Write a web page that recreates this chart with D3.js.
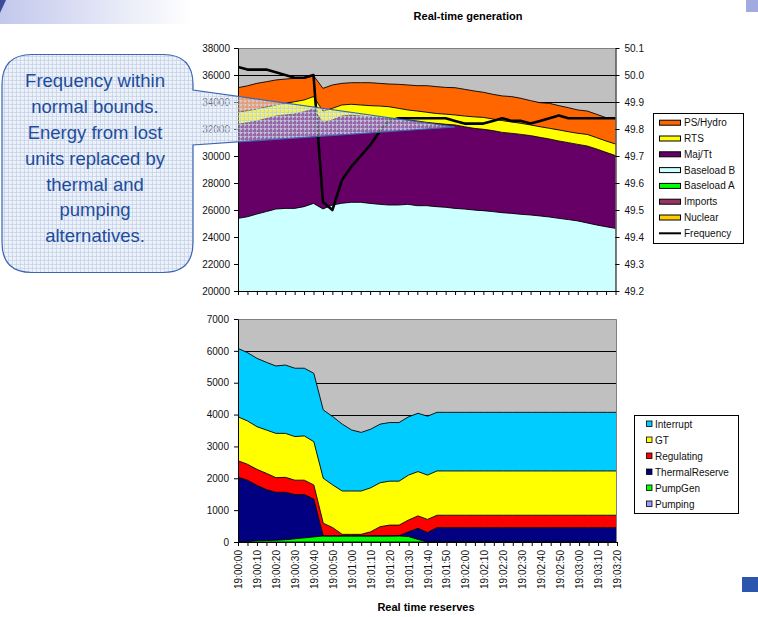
<!DOCTYPE html>
<html>
<head>
<meta charset="utf-8">
<script src="https://cdn.jsdelivr.net/npm/d3@7"></script>
<style>
  body { margin: 0; background: #fff; }
  svg { display: block; font-family: Arial, "Liberation Sans", sans-serif; }
</style>
</head>
<body>
<svg id="chart" width="758" height="617"></svg>
<script>
// ---- categories (5-second samples) ----
const categories = ["19:00:00","19:00:05","19:00:10","19:00:15","19:00:20","19:00:25","19:00:30","19:00:35","19:00:40","19:00:45",
  "19:00:50","19:00:55","19:01:00","19:01:05","19:01:10","19:01:15","19:01:20","19:01:25","19:01:30","19:01:35",
  "19:01:40","19:01:45","19:01:50","19:01:55","19:02:00","19:02:05","19:02:10","19:02:15","19:02:20","19:02:25",
  "19:02:30","19:02:35","19:02:40","19:02:45","19:02:50","19:02:55","19:03:00","19:03:05","19:03:10","19:03:15","19:03:20"];
const timeLabels = ["19:00:00","19:00:10","19:00:20","19:00:30","19:00:40","19:00:50","19:01:00","19:01:10","19:01:20","19:01:30",
  "19:01:40","19:01:50","19:02:00","19:02:10","19:02:20","19:02:30","19:02:40","19:02:50","19:03:00","19:03:10","19:03:20"];

// ---- generation (MW) ----
const nuclear   = [0,0,0,0,0,0,0,0,0,0,0,0,0,0,0,0,0,0,0,0,0,0,0,0,0,0,0,0,0,0,0,0,0,0,0,0,0,0,0,0,0];
const imports   = [0,0,0,0,0,0,0,0,0,0,0,0,0,0,0,0,0,0,0,0,0,0,0,0,0,0,0,0,0,0,0,0,0,0,0,0,0,0,0,0,0];
const baseloadA = [0,0,0,0,0,0,0,0,0,0,0,0,0,0,0,0,0,0,0,0,0,0,0,0,0,0,0,0,0,0,0,0,0,0,0,0,0,0,0,0,0];
const baseloadB = [25380,25500,25700,25880,26070,26120,26120,26250,26490,26080,26370,26500,26570,26570,26490,26420,26370,26370,26420,26320,
  26320,26250,26200,26120,26070,26000,25950,25880,25800,25750,25680,25630,25560,25480,25380,25290,25190,25040,24890,24760,24640];
const majTt     = [6970,6970,6890,6900,6890,6920,6990,7030,6990,6410,6300,6460,6460,6390,6420,6420,6420,6370,6250,6270,
  6170,6170,6150,6180,6100,6050,6030,6000,5950,5930,5920,5880,5820,5780,5730,5700,5670,5700,5630,5510,5390];
const rts       = [890,890,890,850,820,860,910,870,920,840,860,820,800,820,820,860,860,790,740,740,
  750,730,750,740,790,850,880,860,870,840,820,790,790,790,820,810,820,860,840,840,860];
const psHydro   = [1820,1840,1900,1870,1850,1800,1730,1600,1550,1680,1730,1600,1600,1650,1700,1680,1680,1780,1850,1880,
  1970,1990,1980,2020,1980,1920,1860,1830,1830,1880,1850,1800,1780,1850,1800,1780,1730,1730,1730,1730,1900];
// ---- system frequency (Hz) ----
const frequency = [50.03,50.02,50.02,50.02,50.01,50.00,49.99,49.99,50.00,49.53,49.50,49.61,49.66,49.70,49.74,49.79,49.83,49.84,49.84,49.84,
  49.84,49.84,49.84,49.83,49.82,49.82,49.82,49.83,49.84,49.83,49.83,49.82,49.83,49.84,49.85,49.84,49.84,49.84,49.84,49.84,49.84];

// ---- reserves (MW) ----
const pumping        = [0,0,0,0,0,0,0,0,0,0,0,0,0,0,0,0,0,0,0,0,0,0,0,0,0,0,0,0,0,0,0,0,0,0,0,0,0,0,0,0,0];
const pumpGen        = [0,15,40,45,55,70,100,130,160,190,190,190,190,190,190,190,190,190,170,80,0,0,0,0,0,0,0,0,0,0,0,0,0,0,0,0,0,0,0,0,0];
const thermalReserve = [2030,1925,1740,1600,1505,1490,1390,1360,1190,0,0,0,0,0,0,0,0,10,150,350,300,450,450,450,450,450,450,450,450,450,450,450,450,450,450,450,450,450,450,450,450];
const regulating     = [520,500,500,510,460,470,450,450,440,400,260,50,50,50,130,290,340,330,370,390,410,390,390,390,390,390,390,390,390,390,390,390,390,390,390,390,390,390,390,390,390];
const gt             = [1380,1360,1340,1360,1390,1380,1370,1390,1360,1410,1340,1360,1360,1360,1380,1380,1380,1380,1410,1390,1390,1390,1390,1390,1390,1390,1390,1390,1390,1390,1390,1390,1390,1390,1390,1390,1390,1390,1390,1390,1390];
const interrupt      = [2145,2145,2145,2125,2115,2145,2145,2125,2145,2145,2145,2100,1915,1840,1840,1840,1840,1840,1830,1830,1850,1840,1840,1840,1840,1840,1840,1840,1840,1840,1840,1840,1840,1840,1840,1840,1840,1840,1840,1840,1840];

// ---- axis ticks ----
const genTicks = [20000,22000,24000,26000,28000,30000,32000,34000,36000,38000];
const freqTicks = [49.2,49.3,49.4,49.5,49.6,49.7,49.8,49.9,50.0,50.1];
const reserveTicks = [0,1000,2000,3000,4000,5000,6000,7000];

// ---- series names / colours ----
const genKeys   = ["Nuclear","Imports","Baseload A","Baseload B","Maj/Tt","RTS","PS/Hydro"];
const genColors = ["#FFCC00","#993366","#00FF00","#CCFFFF","#660066","#FFFF00","#FF6600"];
const genSeries = [nuclear, imports, baseloadA, baseloadB, majTt, rts, psHydro];
const resKeys   = ["Pumping","PumpGen","ThermalReserve","Regulating","GT","Interrupt"];
const resColors = ["#9999FF","#00FF00","#000080","#FF0000","#FFFF00","#00CCFF"];
const resSeries = [pumping, pumpGen, thermalReserve, regulating, gt, interrupt];

const svg = d3.select("#chart");
const defs = svg.append("defs");

// slide decorations
const grad = defs.append("linearGradient").attr("id", "band").attr("x1", 0).attr("x2", 1);
grad.append("stop").attr("offset", 0).attr("stop-color", "#C2C8EC");
grad.append("stop").attr("offset", 1).attr("stop-color", "#FFFFFF");
svg.append("rect").attr("x", 0).attr("y", 0).attr("width", 192).attr("height", 24).attr("fill", "url(#band)");
svg.append("path").attr("d", "M0,0 L6,0 L0,13 Z").attr("fill", "#3A4C98");
svg.append("rect").attr("x", 746).attr("y", 0).attr("width", 12).attr("height", 12).attr("fill", "#A3AADF");
svg.append("rect").attr("x", 742).attr("y", 577).attr("width", 16).attr("height", 15).attr("fill", "#2C56AE");

function table(keys, series) {
  return categories.map((c, i) => {
    const row = { cat: c };
    keys.forEach((k, j) => { row[k] = series[j][i]; });
    return row;
  });
}

function styleAxis(g) {
  g.selectAll("path.domain").attr("stroke", "#000");
  g.selectAll(".tick line").attr("stroke", "#000");
  g.selectAll("text").attr("fill", "#111").style("font-size", "10px").style("font-family", "Arial, 'Liberation Sans', sans-serif");
}

// ================= Real-time generation =================
const genBox = { l: 238, r: 615.5, t: 48, b: 291 };
const xTop = d3.scalePoint().domain(categories).range([genBox.l, genBox.r]);
const yGen = d3.scaleLinear().domain([20000, 38000]).range([genBox.b, genBox.t]);
const yFreq = d3.scaleLinear().domain([49.2, 50.1]).range([genBox.b, genBox.t]);

defs.append("clipPath").attr("id", "clipTop").append("rect")
  .attr("x", genBox.l).attr("y", genBox.t).attr("width", genBox.r - genBox.l).attr("height", genBox.b - genBox.t);

const gTop = svg.append("g");
gTop.append("rect").attr("x", genBox.l).attr("y", genBox.t).attr("width", genBox.r - genBox.l).attr("height", genBox.b - genBox.t).attr("fill", "#C0C0C0");
gTop.selectAll("line.grid").data(genTicks.slice(1, -1)).join("line")
  .attr("x1", genBox.l).attr("x2", genBox.r).attr("y1", d => Math.round(yGen(d)) + 0.5).attr("y2", d => Math.round(yGen(d)) + 0.5)
  .attr("stroke", "#000").attr("stroke-width", 1);

const genStack = d3.stack().keys(genKeys)(table(genKeys, genSeries));
const areaTop = d3.area().x(d => xTop(d.data.cat)).y0(d => yGen(d[0])).y1(d => yGen(d[1]));
const edgeTop = d3.line().x(d => xTop(d.data.cat)).y(d => yGen(d[1]));
const gAreas = gTop.append("g").attr("clip-path", "url(#clipTop)");
gAreas.selectAll("path.a").data(genStack).join("path")
  .attr("d", areaTop).attr("fill", (d, i) => genColors[i]);
gAreas.selectAll("path.e").data(genStack.slice(3)).join("path")
  .attr("d", edgeTop).attr("fill", "none").attr("stroke", "#000").attr("stroke-width", 0.9);
gAreas.append("path").datum(frequency)
  .attr("d", d3.line().x((d, i) => xTop(categories[i])).y(d => yFreq(d)))
  .attr("fill", "none").attr("stroke", "#000").attr("stroke-width", 2.6).attr("stroke-linejoin", "round");
gTop.append("line").attr("x1", genBox.l).attr("x2", genBox.r).attr("y1", genBox.t + 0.5).attr("y2", genBox.t + 0.5).attr("stroke", "#808080");

svg.append("g").attr("transform", `translate(${genBox.l},0)`)
  .call(d3.axisLeft(yGen).tickValues(genTicks).tickSize(4).tickSizeOuter(0).tickPadding(4).tickFormat(d3.format("d")))
  .call(styleAxis);
svg.append("g").attr("transform", `translate(${genBox.r},0)`)
  .call(d3.axisRight(yFreq).tickValues(freqTicks).tickSize(4).tickSizeOuter(0).tickPadding(5).tickFormat(d3.format(".1f")))
  .call(styleAxis);
svg.append("g").attr("transform", `translate(0,${genBox.b})`)
  .call(d3.axisBottom(xTop).tickSize(4).tickSizeOuter(0).tickFormat(""))
  .call(styleAxis);

svg.append("text").attr("x", 468).attr("y", 20).attr("text-anchor", "middle")
  .style("font-size", "11px").style("font-weight", "bold").text("Real-time generation");

// legend (top series first)
const legTop = svg.append("g");
legTop.append("rect").attr("x", 653.5).attr("y", 113.5).attr("width", 90).attr("height", 130).attr("fill", "#fff").attr("stroke", "#000");
const legTopItems = genKeys.map((k, i) => ({ name: k, color: genColors[i] })).reverse();
legTopItems.push({ name: "Frequency", line: true });
legTopItems.forEach((d, i) => {
  const cy = 122.7 + i * 15.8;
  if (d.line) {
    legTop.append("line").attr("x1", 659).attr("x2", 681).attr("y1", cy).attr("y2", cy).attr("stroke", "#000").attr("stroke-width", 2);
  } else {
    legTop.append("rect").attr("x", 659.5).attr("y", cy - 2.5).attr("width", 21).attr("height", 5)
      .attr("fill", d.color).attr("stroke", "#000").attr("stroke-width", 1);
  }
  legTop.append("text").attr("x", 684).attr("y", cy).attr("dy", "0.35em").style("font-size", "10px").attr("fill", "#111").text(d.name);
});

// ================= Real time reserves =================
const resBox = { l: 238, r: 617, t: 319, b: 542 };
const xBot = d3.scalePoint().domain(categories).range([resBox.l, resBox.r]);
const yRes = d3.scaleLinear().domain([0, 7000]).range([resBox.b, resBox.t]);

const gBot = svg.append("g");
gBot.append("rect").attr("x", resBox.l).attr("y", resBox.t).attr("width", resBox.r - resBox.l).attr("height", resBox.b - resBox.t).attr("fill", "#C0C0C0");
gBot.selectAll("line.grid").data(reserveTicks.slice(1, -1)).join("line")
  .attr("x1", resBox.l).attr("x2", resBox.r).attr("y1", d => Math.round(yRes(d)) + 0.5).attr("y2", d => Math.round(yRes(d)) + 0.5)
  .attr("stroke", "#000").attr("stroke-width", 1);
const resStack = d3.stack().keys(resKeys)(table(resKeys, resSeries));
const areaBot = d3.area().x(d => xBot(d.data.cat)).y0(d => yRes(d[0])).y1(d => yRes(d[1]));
const edgeBot = d3.line().x(d => xBot(d.data.cat)).y(d => yRes(d[1]));
gBot.selectAll("path.a").data(resStack).join("path").attr("d", areaBot).attr("fill", (d, i) => resColors[i]);
gBot.selectAll("path.e").data(resStack).join("path").attr("d", edgeBot)
  .attr("fill", "none").attr("stroke", "#000").attr("stroke-width", 0.9);
gBot.append("path").attr("d", `M${resBox.l},${resBox.t + 0.5}H${resBox.r - 0.5}V${resBox.b}`).attr("fill", "none").attr("stroke", "#808080");

svg.append("g").attr("transform", `translate(${resBox.l},0)`)
  .call(d3.axisLeft(yRes).tickValues(reserveTicks).tickSize(4).tickSizeOuter(0).tickPadding(5).tickFormat(d3.format("d")))
  .call(styleAxis);
const xAxisBot = svg.append("g").attr("transform", `translate(0,${resBox.b})`)
  .call(d3.axisBottom(xBot).tickSize(4).tickSizeOuter(0).tickFormat(d => timeLabels.includes(d) ? d : ""))
  .call(styleAxis);
xAxisBot.selectAll("text").attr("transform", "rotate(-90)").attr("x", -8).attr("y", 0).attr("dy", "0.35em").attr("text-anchor", "end");

svg.append("text").attr("x", 426).attr("y", 611).attr("text-anchor", "middle")
  .style("font-size", "11px").style("font-weight", "bold").text("Real time reserves");

const legBot = svg.append("g");
legBot.append("rect").attr("x", 634.5).attr("y", 415.5).attr("width", 104).attr("height", 98).attr("fill", "#fff").attr("stroke", "#000");
resKeys.map((k, i) => ({ name: k, color: resColors[i] })).reverse().forEach((d, i) => {
  const cy = 424 + i * 16;
  legBot.append("rect").attr("x", 646.5).attr("y", cy - 3).attr("width", 5.5).attr("height", 5.5)
    .attr("fill", d.color).attr("stroke", "#000").attr("stroke-width", 0.8);
  legBot.append("text").attr("x", 655).attr("y", cy).attr("dy", "0.35em").style("font-size", "10px").attr("fill", "#111").text(d.name);
});

// ================= Callout =================
const pat = defs.append("pattern").attr("id", "mesh").attr("width", 4).attr("height", 4).attr("patternUnits", "userSpaceOnUse");
pat.append("rect").attr("width", 4).attr("height", 4).attr("fill", "#D6E0F2").attr("fill-opacity", 0.45);
pat.append("rect").attr("width", 2).attr("height", 2).attr("fill", "#FFFFFF").attr("fill-opacity", 0.5);
pat.append("path").attr("d", "M0,0.5H4M0.5,0V4").attr("stroke", "#B4C4E2").attr("stroke-opacity", 0.55).attr("stroke-width", 1);

const cb = { x0: 2, y0: 54.5, x1: 193, y1: 272.5, r: 30, wTop: 90, wBot: 145, tipX: 455, tipY: 127 };
const calloutPath = `M${cb.x0 + cb.r},${cb.y0} H${cb.x1 - cb.r} Q${cb.x1},${cb.y0} ${cb.x1},${cb.y0 + cb.r} V${cb.wTop} L${cb.tipX},${cb.tipY} L${cb.x1},${cb.wBot} ` +
  `V${cb.y1 - cb.r} Q${cb.x1},${cb.y1} ${cb.x1 - cb.r},${cb.y1} H${cb.x0 + cb.r} Q${cb.x0},${cb.y1} ${cb.x0},${cb.y1 - cb.r} V${cb.y0 + cb.r} Q${cb.x0},${cb.y0} ${cb.x0 + cb.r},${cb.y0} Z`;
svg.append("path").attr("d", calloutPath).attr("fill", "url(#mesh)").attr("stroke", "#3C64B4").attr("stroke-width", 1.2);

const calloutLines = ["Frequency within", "normal bounds.", "Energy from lost", "units replaced by", "thermal and", "pumping", "alternatives."];
svg.append("g").selectAll("text").data(calloutLines).join("text")
  .attr("x", 95).attr("y", (d, i) => 81 + i * 25.8).attr("dy", "0.35em").attr("text-anchor", "middle")
  .style("font-size", "18.5px").attr("fill", "#1E4C9C").text(d => d);
</script>
</body>
</html>
